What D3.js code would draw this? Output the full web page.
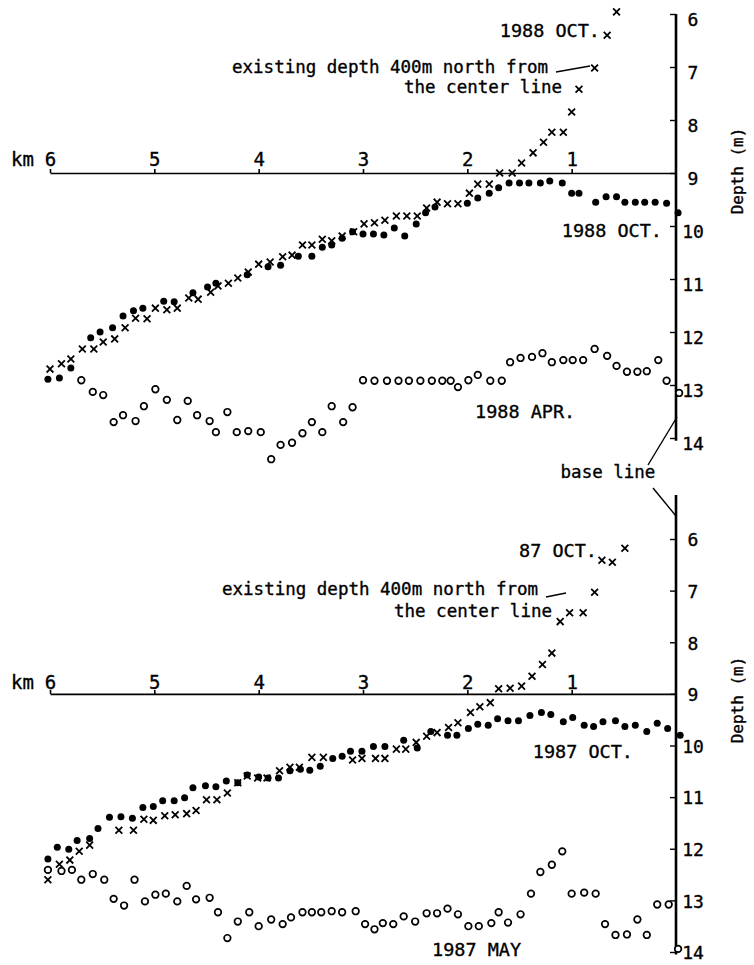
<!DOCTYPE html>
<html>
<head>
<meta charset="utf-8">
<script src="https://cdn.jsdelivr.net/npm/d3@7"></script>
<style>
  body { margin: 0; background: #fff; }
  text { font-family: "DejaVu Sans Mono", monospace; fill: #000; stroke: #000; stroke-width: 0.35px; }
</style>
</head>
<body>
<svg id="chart" width="754" height="965"></svg>
<script>
// ---- data: [distance km, depth m] ----
const kmTicks = [6, 5, 4, 3, 2, 1];
const depthTicks = [6, 7, 8, 9, 10, 11, 12, 13, 14];

// 1988 panel
const oct88North = [[6.00,12.70],[5.89,12.60],[5.80,12.51],[5.69,12.32],[5.58,12.32],[5.49,12.19],[5.38,12.13],[5.28,11.92],[5.18,11.74],[5.07,11.75],[4.99,11.55],[4.88,11.58],[4.78,11.55],[4.67,11.36],[4.58,11.38],[4.46,11.25],[4.39,11.13],[4.29,11.08],[4.20,10.98],[4.10,10.87],[4.00,10.72],[3.89,10.68],[3.77,10.58],[3.68,10.55],[3.58,10.36],[3.49,10.36],[3.39,10.25],[3.30,10.28],[3.20,10.19],[3.09,10.11],[2.99,9.96],[2.89,9.94],[2.79,9.89],[2.68,9.81],[2.58,9.81],[2.48,9.81],[2.39,9.66],[2.29,9.55],[2.19,9.58],[2.09,9.58],[1.98,9.38],[1.90,9.21],[1.79,9.21],[1.69,9.00],[1.57,9.00],[1.48,8.81],[1.37,8.62],[1.27,8.42],[1.19,8.23],[1.08,8.23],[1.00,7.85],[0.93,7.42],[0.78,7.02],[0.66,6.40],[0.57,5.96]];
const oct88Center = [[6.02,12.89],[5.91,12.87],[5.80,12.68],[5.61,12.11],[5.52,12.00],[5.40,11.92],[5.30,11.70],[5.20,11.60],[5.11,11.55],[4.91,11.42],[4.81,11.43],[4.63,11.26],[4.49,11.15],[4.41,11.08],[4.11,10.92],[3.91,10.77],[3.79,10.74],[3.62,10.57],[3.49,10.57],[3.39,10.40],[3.30,10.36],[3.20,10.23],[3.10,10.11],[3.00,10.15],[2.90,10.15],[2.80,10.17],[2.70,10.04],[2.60,10.19],[2.49,9.96],[2.40,9.75],[2.31,9.64],[2.00,9.57],[1.90,9.47],[1.79,9.38],[1.70,9.28],[1.60,9.19],[1.50,9.19],[1.41,9.19],[1.30,9.19],[1.21,9.15],[1.09,9.19],[1.00,9.38],[0.93,9.38],[0.77,9.55],[0.67,9.45],[0.57,9.45],[0.49,9.55],[0.39,9.55],[0.30,9.55],[0.20,9.55],[0.09,9.57],[-0.02,9.75]];
const apr88 = [[5.70,12.91],[5.59,13.13],[5.49,13.19],[5.39,13.70],[5.30,13.57],[5.18,13.68],[5.10,13.40],[4.99,13.08],[4.88,13.28],[4.78,13.66],[4.68,13.30],[4.59,13.57],[4.47,13.68],[4.41,13.89],[4.30,13.51],[4.21,13.89],[4.10,13.87],[3.98,13.89],[3.88,14.40],[3.79,14.13],[3.68,14.09],[3.58,13.91],[3.49,13.70],[3.39,13.89],[3.30,13.40],[3.19,13.70],[3.10,13.42],[3.00,12.91],[2.89,12.92],[2.77,12.92],[2.66,12.92],[2.56,12.92],[2.45,12.92],[2.34,12.92],[2.24,12.92],[2.16,12.92],[2.09,13.04],[1.99,12.91],[1.90,12.81],[1.78,12.92],[1.67,12.92],[1.59,12.57],[1.49,12.49],[1.38,12.47],[1.28,12.40],[1.19,12.57],[1.08,12.53],[0.99,12.53],[0.89,12.53],[0.78,12.32],[0.66,12.45],[0.57,12.64],[0.47,12.75],[0.37,12.75],[0.28,12.74],[0.17,12.53],[0.09,12.92],[-0.03,13.15]];

// 1987 panel
const oct87North = [[6.02,12.60],[5.91,12.30],[5.81,12.22],[5.72,12.05],[5.62,11.93],[5.34,11.64],[5.20,11.64],[5.10,11.43],[5.01,11.45],[4.90,11.36],[4.80,11.34],[4.69,11.32],[4.60,11.26],[4.50,11.05],[4.40,11.05],[4.30,10.92],[4.20,10.72],[4.11,10.59],[4.01,10.63],[3.92,10.63],[3.80,10.49],[3.70,10.42],[3.61,10.42],[3.49,10.23],[3.38,10.23],[3.10,10.28],[3.01,10.25],[2.88,10.25],[2.79,10.25],[2.68,10.07],[2.59,10.07],[2.49,9.94],[2.39,9.82],[2.29,9.75],[2.18,9.65],[2.09,9.56],[1.97,9.36],[1.88,9.25],[1.78,9.17],[1.70,8.90],[1.59,8.89],[1.48,8.85],[1.38,8.66],[1.28,8.43],[1.19,8.21],[1.11,7.60],[1.02,7.43],[0.89,7.43],[0.78,7.03],[0.71,6.41],[0.61,6.45],[0.49,6.18]];
const oct87Center = [[6.02,12.20],[5.93,11.97],[5.82,12.01],[5.74,11.84],[5.62,11.80],[5.54,11.61],[5.43,11.39],[5.32,11.38],[5.21,11.41],[5.11,11.20],[5.01,11.18],[4.92,11.07],[4.81,11.07],[4.71,11.01],[4.63,10.82],[4.51,10.78],[4.41,10.80],[4.31,10.69],[4.20,10.72],[4.11,10.57],[4.00,10.61],[3.91,10.63],[3.81,10.63],[3.70,10.49],[3.60,10.46],[3.51,10.48],[3.41,10.40],[3.29,10.25],[3.20,10.21],[3.12,10.11],[3.01,10.11],[2.90,10.02],[2.79,10.02],[2.61,9.90],[2.48,10.05],[2.35,9.73],[2.19,9.80],[2.10,9.80],[1.99,9.67],[1.90,9.59],[1.80,9.61],[1.71,9.48],[1.61,9.52],[1.51,9.52],[1.40,9.42],[1.29,9.36],[1.20,9.40],[1.08,9.54],[0.99,9.46],[0.88,9.61],[0.79,9.63],[0.70,9.54],[0.58,9.52],[0.49,9.63],[0.39,9.61],[0.28,9.73],[0.18,9.57],[0.08,9.67],[-0.04,9.80]];
const may87 = [[6.02,12.41],[5.89,12.43],[5.79,12.41],[5.70,12.60],[5.59,12.49],[5.48,12.60],[5.39,12.97],[5.29,13.10],[5.19,12.60],[5.09,13.02],[4.99,12.89],[4.89,12.87],[4.78,13.02],[4.69,12.72],[4.60,12.98],[4.47,12.95],[4.39,13.23],[4.30,13.73],[4.20,13.41],[4.09,13.23],[4.00,13.50],[3.88,13.37],[3.77,13.46],[3.69,13.33],[3.58,13.23],[3.49,13.23],[3.40,13.23],[3.30,13.21],[3.20,13.23],[3.07,13.21],[2.98,13.46],[2.89,13.56],[2.81,13.44],[2.71,13.46],[2.61,13.31],[2.50,13.41],[2.39,13.25],[2.29,13.25],[2.19,13.16],[2.09,13.27],[1.99,13.50],[1.89,13.50],[1.77,13.44],[1.70,13.23],[1.61,13.43],[1.49,13.27],[1.39,12.87],[1.30,12.45],[1.19,12.31],[1.09,12.05],[1.00,12.87],[0.88,12.85],[0.77,12.87],[0.68,13.46],[0.58,13.67],[0.47,13.66],[0.37,13.37],[0.28,13.67],[0.18,13.08],[0.07,13.08],[-0.02,13.94]];

// ---- scales ----
const svg = d3.select("#chart");
svg.append("rect").attr("width", 754).attr("height", 965).attr("fill", "#fff");

const x = d3.scaleLinear().domain([6, 0]).range([50, 676]);
const yTop = d3.scaleLinear().domain([6, 14]).range([14, 438]);
const yBot = d3.scaleLinear().domain([6, 14]).range([539, 952]);

function label(g, txt, px, py, anchor, size) {
  g.append("text")
    .attr("x", px).attr("y", py)
    .attr("text-anchor", anchor || "start")
    .style("font-size", (size || 17) + "px")
    .text(txt);
}

function drawPanel(y, opts) {
  const g = svg.append("g");

  // km axis on the 9 m line
  const kmAxis = g.append("g")
    .attr("transform", `translate(0,${y(9)})`)
    .call(d3.axisTop(x).tickValues(kmTicks).tickFormat(d3.format("d"))
      .tickSize(4).tickSizeOuter(0).tickPadding(opts.kmPad))
    .attr("font-family", null).attr("font-size", null);
  kmAxis.select(".domain").attr("stroke-width", 1.6);
  kmAxis.selectAll(".tick line").attr("stroke-width", 1.6);
  kmAxis.selectAll(".tick text").style("font-size", "19px");
  label(g, "km", 11, y(9) - opts.kmPad - 4, "start", 19);

  // depth axis at km 0
  g.append("line")
    .attr("x1", x(0)).attr("x2", x(0))
    .attr("y1", y(opts.axisFrom)).attr("y2", y(14.05))
    .attr("stroke", "#000").attr("stroke-width", 2.6);
  const dAxis = g.append("g")
    .attr("transform", `translate(${x(0)},0)`)
    .call(d3.axisRight(y).tickValues(depthTicks).tickSize(-6).tickSizeOuter(0).tickPadding(0))
    .attr("font-family", null).attr("font-size", null);
  dAxis.select(".domain").remove();
  dAxis.selectAll(".tick line").attr("stroke-width", 1.4);
  dAxis.selectAll(".tick text")
    .attr("x", 17).attr("dy", opts.labelDy)
    .attr("text-anchor", "middle")
    .style("font-size", "18px");

  g.append("text")
    .attr("transform", `translate(743,${opts.depthY}) rotate(-90)`)
    .attr("text-anchor", "middle")
    .style("font-size", "16px")
    .text("Depth (m)");

  // markers
  g.append("g").selectAll("circle")
    .data(opts.open)
    .join("circle")
    .attr("cx", d => x(d[0])).attr("cy", d => y(d[1]))
    .attr("r", 3.3)
    .attr("fill", "#fff").attr("stroke", "#000").attr("stroke-width", 1.7);

  g.append("g").selectAll("circle")
    .data(opts.filled)
    .join("circle")
    .attr("cx", d => x(d[0])).attr("cy", d => y(d[1]))
    .attr("r", 3.5)
    .attr("fill", "#000");

  const s = 3.4;
  g.append("g").selectAll("path")
    .data(opts.cross)
    .join("path")
    .attr("transform", d => `translate(${x(d[0])},${y(d[1])})`)
    .attr("d", `M${-s},${-s}L${s},${s}M${-s},${s}L${s},${-s}`)
    .attr("stroke", "#000").attr("stroke-width", 1.8).attr("fill", "none");

  return g;
}

// ---- 1988 panel ----
const panel88 = drawPanel(yTop, {
  kmPad: 3, axisFrom: 6, depthY: 171, labelDy: "0.64em",
  open: apr88, filled: oct88Center, cross: oct88North
});
label(panel88, "1988 OCT.", 600, 37, "end", 18.5);
label(panel88, "existing depth 400m north from", 232, 73, "start", 17.5);
panel88.append("line").attr("x1", 556).attr("y1", 72).attr("x2", 590).attr("y2", 66)
  .attr("stroke", "#000").attr("stroke-width", 1.4);
label(panel88, "the center line", 562, 93, "end", 17.5);
label(panel88, "1988 OCT.", 662, 237, "end", 18.5);
label(panel88, "1988 APR.", 475, 418, "start", 18.5);

// base line pointer
label(svg, "base line", 608, 478, "middle", 17.5);
svg.append("line").attr("x1", 648).attr("y1", 465).attr("x2", 677).attr("y2", 417)
  .attr("stroke", "#000").attr("stroke-width", 1.4);
svg.append("line").attr("x1", 653).attr("y1", 488).attr("x2", 676).attr("y2", 516)
  .attr("stroke", "#000").attr("stroke-width", 1.4);

// ---- 1987 panel ----
const panel87 = drawPanel(yBot, {
  kmPad: 1, axisFrom: 5.15, depthY: 700, labelDy: "0.38em",
  open: may87, filled: oct87Center, cross: oct87North
});
label(panel87, "87 OCT.", 597, 557, "end", 18.5);
label(panel87, "existing depth 400m north from", 222, 595, "start", 17.5);
panel87.append("line").attr("x1", 546).attr("y1", 597).attr("x2", 566).attr("y2", 593)
  .attr("stroke", "#000").attr("stroke-width", 1.4);
label(panel87, "the center line", 552, 617, "end", 17.5);
label(panel87, "1987 OCT.", 633, 758, "end", 18.5);
label(panel87, "1987 MAY", 432, 956, "start", 18.5);
</script>
</body>
</html>
